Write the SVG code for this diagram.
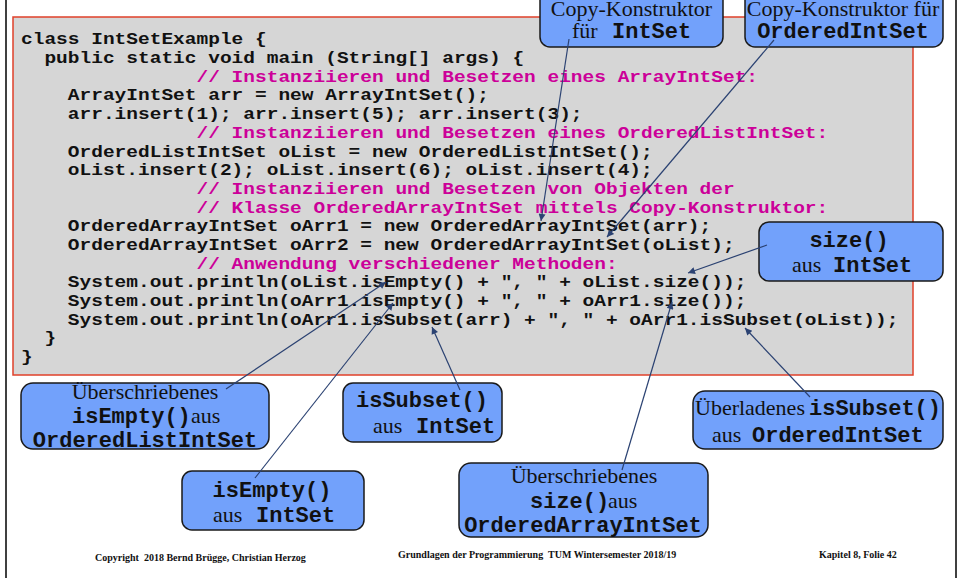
<svg xmlns="http://www.w3.org/2000/svg" width="959" height="578" viewBox="0 0 959 578">
<defs>
<style>
.code{font-family:"Liberation Mono","Courier New",monospace;font-weight:bold;font-size:19.5px;fill:#111}
.cm{fill:#cc0099}
.box{fill:#72a1fb;stroke:#1a1a1a;stroke-width:1.5}
.ser{font-family:"Liberation Serif","Times New Roman",serif;font-size:22px;fill:#111}
.mono{font-family:"Liberation Mono","Courier New",monospace;font-weight:bold;font-size:22px;fill:#111}
.foot{font-family:"Liberation Serif","Times New Roman",serif;font-weight:bold;font-size:10px;fill:#111}
.con{stroke:#2b4272;stroke-width:1.2;fill:none;marker-end:url(#ah)}
</style>
<marker id="ah" viewBox="0 0 10 10" refX="10" refY="5" markerWidth="10" markerHeight="7" markerUnits="userSpaceOnUse" orient="auto">
<path d="M0,0 L10,5 L0,10 z" fill="#2b4272"/>
</marker>
</defs>
<rect x="0" y="0" width="959" height="578" fill="#ffffff"/>
<line x1="6" y1="0" x2="6" y2="578" stroke="#000" stroke-width="1.5"/>
<line x1="956" y1="0" x2="956" y2="578" stroke="#000" stroke-width="1.5"/>

<g id="code">
<rect x="13" y="17" width="900" height="358" fill="#d6d6d6" stroke="#e0402a" stroke-width="1.5"/>
<g transform="matrix(1,0,0,0.82,0,0)">
<text class="code" x="21" y="54.27">class IntSetExample {</text>
<text class="code" x="44.4" y="77.07">public static void main (String[] args) {</text>
<text class="code cm" x="196.5" y="99.88">// Instanziieren und Besetzen eines ArrayIntSet:</text>
<text class="code" x="67.8" y="122.56">ArrayIntSet arr = new ArrayIntSet();</text>
<text class="code" x="67.8" y="145.37">arr.insert(1); arr.insert(5); arr.insert(3);</text>
<text class="code cm" x="196.5" y="168.17">// Instanziieren und Besetzen eines OrderedListIntSet:</text>
<text class="code" x="67.8" y="190.98">OrderedListIntSet oList = new OrderedListIntSet();</text>
<text class="code" x="67.8" y="213.78">oList.insert(2); oList.insert(6); oList.insert(4);</text>
<text class="code cm" x="196.5" y="236.46">// Instanziieren und Besetzen von Objekten der</text>
<text class="code cm" x="196.5" y="259.27">// Klasse OrderedArrayIntSet mittels Copy-Konstruktor:</text>
<text class="code" x="67.8" y="282.07">OrderedArrayIntSet oArr1 = new OrderedArrayIntSet(arr);</text>
<text class="code" x="67.8" y="304.88">OrderedArrayIntSet oArr2 = new OrderedArrayIntSet(oList);</text>
<text class="code cm" x="196.5" y="327.68">// Anwendung verschiedener Methoden:</text>
<text class="code" x="67.8" y="350.37">System.out.println(oList.isEmpty() + ", " + oList.size());</text>
<text class="code" x="67.8" y="373.17">System.out.println(oArr1.isEmpty() + ", " + oArr1.size());</text>
<text class="code" x="67.8" y="395.98">System.out.println(oArr1.isSubset(arr) + ", " + oArr1.isSubset(oList));</text>
<text class="code" x="44.4" y="418.78">}</text>
<text class="code" x="21" y="441.46">}</text>
</g>
</g>

<g id="copyIntSet">
<rect class="box" x="540" y="-12" width="183" height="59" rx="10"/>
<text class="ser" x="631.5" y="15.5" text-anchor="middle">Copy-Konstruktor</text>
<text class="ser" x="572" y="38">für</text>
<text class="mono" x="612" y="38">IntSet</text>
</g>

<g id="copyOrderedIntSet">
<rect class="box" x="745" y="-12" width="198" height="59" rx="10"/>
<text class="ser" x="843" y="15.5" text-anchor="middle">Copy-Konstruktor für</text>
<text class="mono" x="843" y="38" text-anchor="middle">OrderedIntSet</text>
</g>

<g id="sizeIntSet">
<rect class="box" x="759" y="222" width="184" height="59" rx="10"/>
<text class="mono" x="849" y="247" text-anchor="middle">size()</text>
<text class="ser" x="792" y="272">aus</text>
<text class="mono" x="833" y="272">IntSet</text>
</g>

<g id="isEmptyOrderedList">
<rect class="box" x="21" y="383" width="248" height="66" rx="12"/>
<text class="ser" x="145" y="399" text-anchor="middle">Überschriebenes</text>
<text class="mono" x="72" y="423">isEmpty()</text>
<text class="ser" x="191" y="423">aus</text>
<text class="mono" x="145" y="447" text-anchor="middle">OrderedListIntSet</text>
</g>

<g id="isSubsetIntSet">
<rect class="box" x="343" y="383" width="159" height="59" rx="10"/>
<text class="mono" x="422" y="407" text-anchor="middle">isSubset()</text>
<text class="ser" x="373" y="433">aus</text>
<text class="mono" x="416" y="433">IntSet</text>
</g>

<g id="isEmptyIntSet">
<rect class="box" x="182" y="471" width="182" height="59" rx="10"/>
<text class="mono" x="272" y="497" text-anchor="middle">isEmpty()</text>
<text class="ser" x="213" y="522">aus</text>
<text class="mono" x="256" y="522">IntSet</text>
</g>

<g id="sizeOrderedArray">
<rect class="box" x="459" y="463" width="249" height="74" rx="12"/>
<text class="ser" x="584" y="483" text-anchor="middle">Überschriebenes</text>
<text class="mono" x="530" y="508">size()</text>
<text class="ser" x="608" y="508">aus</text>
<text class="mono" x="583" y="532" text-anchor="middle">OrderedArrayIntSet</text>
</g>

<g id="isSubsetOrdered">
<rect class="box" x="693" y="391" width="250" height="58" rx="12"/>
<text class="ser" x="695" y="415">Überladenes</text>
<text class="mono" x="809" y="415">isSubset()</text>
<text class="ser" x="712" y="442">aus</text>
<text class="mono" x="752" y="442">OrderedIntSet</text>
</g>

<g id="connectors">
<line class="con" x1="569" y1="39" x2="541" y2="221"/>
<line class="con" x1="774" y1="40" x2="607" y2="237"/>
<line class="con" x1="767" y1="245" x2="688" y2="273"/>
<line class="con" x1="226" y1="389" x2="386" y2="282"/>
<line class="con" x1="255" y1="478" x2="393" y2="303"/>
<line class="con" x1="460" y1="390" x2="432" y2="327"/>
<line class="con" x1="622" y1="470" x2="672" y2="302"/>
<line class="con" x1="810" y1="397" x2="745" y2="328"/>
</g>

<g id="footer">
<text class="foot" x="95" y="561" xml:space="preserve">Copyright  2018 Bernd Brügge, Christian Herzog</text>
<text class="foot" x="398" y="558" xml:space="preserve">Grundlagen der Programmierung  TUM Wintersemester 2018/19</text>
<text class="foot" x="819" y="558">Kapitel 8, Folie 42</text>
</g>
</svg>
